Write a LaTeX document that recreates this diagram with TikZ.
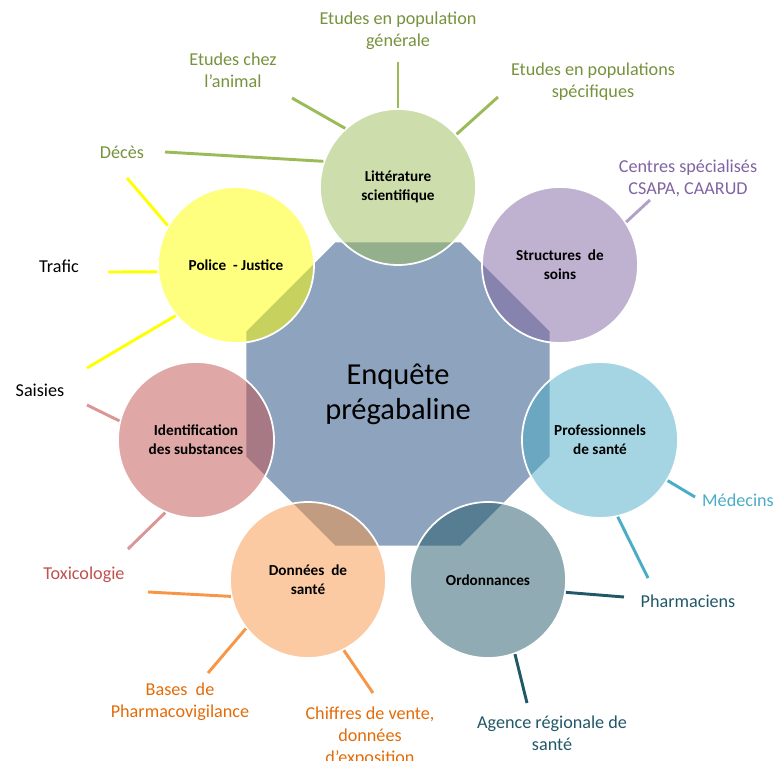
\documentclass[tikz,border=0pt]{standalone}
\usepackage{fontspec}
\setmainfont{Carlito}
\usepackage{xcolor}
\usetikzlibrary{shapes.geometric}

\definecolor{octo}{HTML}{8EA3BE}
\definecolor{vert}{HTML}{9BBB59}
\definecolor{vertTxt}{HTML}{76923C}
\definecolor{violet}{HTML}{8064A2}
\definecolor{violetTrait}{HTML}{B2A1C7}
\definecolor{bleu}{HTML}{4BACC6}
\definecolor{petrole}{HTML}{215868}
\definecolor{orange}{HTML}{F79646}
\definecolor{orangeTxt}{HTML}{E36C09}
\definecolor{rouge}{HTML}{C0504D}
\definecolor{rougeTrait}{HTML}{D99694}
\definecolor{jaune}{HTML}{FFFF00}

\begin{document}
\begin{tikzpicture}[x=0.03cm, y=-0.03cm,
    centre/.style={regular polygon, regular polygon sides=8, minimum size=9.9cm, inner sep=0pt,
        fill=octo, draw=white, line width=1.5pt, align=center, font=\fontsize{26}{30}\selectfont},
    bulle/.style={circle, minimum size=4.68cm, inner sep=0pt, draw=white, line width=1.5pt,
        fill opacity=0.5, text opacity=1, align=center, font=\fontsize{13}{16}\selectfont\bfseries},
    rayon/.style={line width=2.5pt},
    etiq/.style={align=center, font=\fontsize{15.5}{18.7}\selectfont}]
\useasboundingbox (0,0) rectangle (778,761);

\node[centre] (E) at (398,394) {Enquête\\prégabaline};
\foreach \n/\x/\y/\col/\txt in {L/398/187/vert/Littérature\\scientifique,
        S/560/265/violet/Structures~~de\\soins,
        P/600/440/bleu/Professionnels\\de santé,
        O/488/580/petrole/Ordonnances,
        D/308/580/orange/Données~~de\\santé,
        I/196/440/rouge/Identification\\des substances,
        J/236/265/jaune/Police~~- Justice} {
    \node[bulle, fill=\col] (\n) at (\x,\y) {\txt};
}

% labels
\node[etiq, vertTxt] (genpop) at (398,31) {Etudes en population\\générale};
\node[etiq, vertTxt] (animal) at (233,70) {Etudes chez\\l’animal};
\node[etiq, vertTxt] (specpop) at (593,82) {Etudes en populations\\spécifiques};
\node[etiq, vertTxt] (deces) at (122,152) {Décès};
\node[etiq, violet] (centres) at (688,178) {Centres spécialisés\\CSAPA, CAARUD};
\node[etiq] (trafic) at (59,266) {Trafic};
\node[etiq] (saisies) at (40,390) {Saisies};
\node[etiq, bleu] (medecins) at (738,500) {Médecins};
\node[etiq, rouge] (toxico) at (84,575) {Toxicologie};
\node[etiq, petrole] (pharma) at (688,601) {Pharmaciens};
\node[etiq, orangeTxt] (bases) at (180,702) {Bases~~de\\Pharmacovigilance};
\node[etiq, orangeTxt] (chiffres) at (370,737) {Chiffres de vente,\\données\\d’exposition};
\node[etiq, petrole] (agence) at (552,733) {Agence régionale de\\santé};

% free ends of the spokes
\coordinate (l1) at (292,98);
\coordinate (l2) at (398,62);
\coordinate (l3) at (498,97);
\coordinate (l4) at (165,152);
\coordinate (s1) at (650,200);
\coordinate (p1) at (695,497);
\coordinate (p2) at (648,578);
\coordinate (o1) at (624,597);
\coordinate (o2) at (527,703);
\coordinate (d1) at (148,592);
\coordinate (d2) at (208,673);
\coordinate (d3) at (373,693);
\coordinate (i1) at (87,405);
\coordinate (i2) at (128,549);
\coordinate (j1) at (127,178);
\coordinate (j2) at (108,272);
\coordinate (j3) at (87,368);

\foreach \n/\a/\c/\col in {L/132/l1/vert, L/90/l2/vert, L/42/l3/vert, L/161/l4/vert,
        S/33/s1/violetTrait, P/329/p1/bleu, P/283/p2/bleu, O/351/o1/petrole, O/290/o2/petrole,
        D/192/d1/orange, D/218/d2/orange, D/297/d3/orange, I/166/i1/rougeTrait, I/247/i2/rougeTrait,
        J/150/j1/jaune, J/185/j2/jaune, J/220/j3/jaune} {
    \draw[rayon, \col] (\n.\a) -- (\c);
}
\end{tikzpicture}
\end{document}
